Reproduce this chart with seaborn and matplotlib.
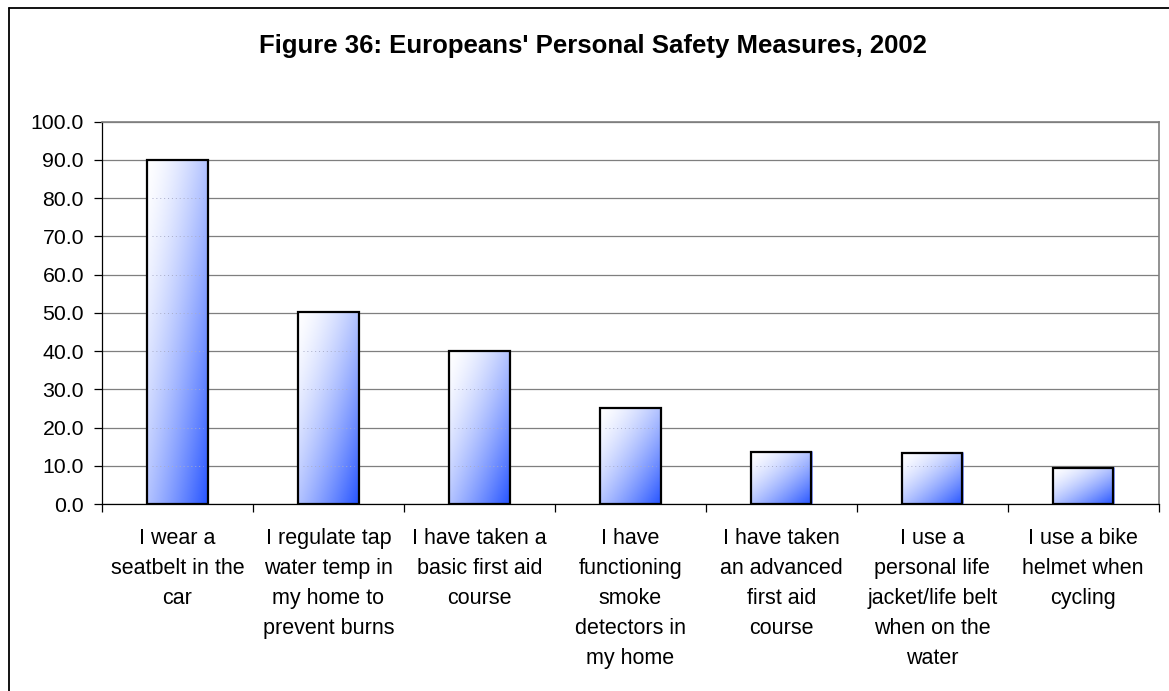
import numpy as np
import pandas as pd
import matplotlib
matplotlib.use("Agg")
import matplotlib.pyplot as plt
from matplotlib.lines import Line2D
from matplotlib.ticker import FixedLocator, FormatStrFormatter
import seaborn as sns

# Share of Europeans reporting each safety measure (%)
categories = [
    "I wear a\nseatbelt in the\ncar",
    "I regulate tap\nwater temp in\nmy home to\nprevent burns",
    "I have taken a\nbasic first aid\ncourse",
    "I have\nfunctioning\nsmoke\ndetectors in\nmy home",
    "I have taken\nan advanced\nfirst aid\ncourse",
    "I use a\npersonal life\njacket/life belt\nwhen on the\nwater",
    "I use a bike\nhelmet when\ncycling",
]
values = [90.0, 50.3, 40.0, 25.2, 13.7, 13.3, 9.5]
y_ticks = [0, 10, 20, 30, 40, 50, 60, 70, 80, 90, 100]
title = "Figure 36: Europeans' Personal Safety Measures, 2002"

sns.set_theme(style="white")
plt.rcParams["font.family"] = ["Liberation Sans", "DejaVu Sans"]

W, H = 1169, 691
fig = plt.figure(figsize=(W / 100, H / 100), dpi=100)
fig.patch.set_facecolor("white")
ax = fig.add_axes([102 / W, 1 - 504 / H, (1158.7 - 102) / W, (504 - 121.7) / H])

df = pd.DataFrame({"measure": categories, "share": values})
sns.barplot(data=df, x="measure", y="share", width=0.4, ax=ax,
            color="white", edgecolor="black", linewidth=1.6, zorder=3)

ax.set_ylim(0, 100)
ax.set_xlim(-0.5, len(categories) - 0.5)
ax.set_xlabel("")
ax.set_ylabel("")

# horizontal gridlines
ax.yaxis.set_major_locator(FixedLocator(y_ticks))
ax.yaxis.set_major_formatter(FormatStrFormatter("%.1f"))
ax.grid(axis="y", color="#7f7f7f", linewidth=0.9, zorder=0)
ax.set_axisbelow(True)

# diagonal white-to-blue gradient inside each bar
ny, nx = 200, 100
u = np.linspace(0, 1, nx)[None, :]
v = np.linspace(1, 0, ny)[:, None]   # 1 at top row, 0 at bottom row
t = np.clip(0.5 * u + 0.5 * (1 - v), 0, 1) ** 1.5
white = np.array([1.0, 1.0, 1.0])
blue = np.array([0.15, 0.33, 1.0])
grad = white[None, None, :] * (1 - t[..., None]) + blue[None, None, :] * t[..., None]

for patch in ax.patches:
    x0, y0 = patch.get_x(), patch.get_y()
    w, h = patch.get_width(), patch.get_height()
    patch.set_facecolor("none")
    im = ax.imshow(grad, extent=[x0, x0 + w, y0, y0 + h], aspect="auto",
                   origin="upper", zorder=2, interpolation="bilinear")
    im.set_clip_path(patch)
    # faint gridlines showing through the bar
    for gy in y_ticks[1:]:
        if gy < y0 + h - 1:
            ax.plot([x0 + w * 0.08, x0 + w * 0.92], [gy, gy], color="#a8acc8",
                    linewidth=0.7, linestyle=(0, (1, 3)), zorder=2.5)
    # thin blue shade along the right edge
    ax.plot([x0 + w * 1.012, x0 + w * 1.012], [y0, y0 + h * 0.995],
            color="#3a5cff", linewidth=1.2, alpha=0.7, zorder=2.8)

ax.set_xlim(-0.5, len(categories) - 0.5)
ax.set_ylim(0, 100)

# spines
for side in ["left", "bottom"]:
    ax.spines[side].set_color("black")
    ax.spines[side].set_linewidth(0.9)
for side in ["top", "right"]:
    ax.spines[side].set_color("#7f7f7f")
    ax.spines[side].set_linewidth(1.2)

# ticks
ax.tick_params(axis="y", which="major", direction="out", length=6, width=0.9,
               color="black", labelsize=15.3, labelcolor="black", pad=7, left=True)
ax.xaxis.set_minor_locator(FixedLocator(np.arange(-0.5, len(categories), 1.0)))
ax.tick_params(axis="x", which="minor", direction="out", length=6, width=0.9,
               color="black", bottom=True)
ax.tick_params(axis="x", which="major", length=0, labelsize=15.5,
               labelcolor="black", pad=17)
for lab in ax.get_xticklabels():
    lab.set_linespacing(1.57)
    lab.set_verticalalignment("top")

fig.text(0.507, 1 - 46 / H, title, ha="center", va="center",
         fontsize=18.5, fontweight="bold", color="black")

# chart frame
fig.add_artist(Line2D([8.5 / W, 8.5 / W], [1 - 8 / H, 0], transform=fig.transFigure,
                      color="black", linewidth=1.3))
fig.add_artist(Line2D([8.5 / W, 1], [1 - 8 / H, 1 - 8 / H], transform=fig.transFigure,
                      color="black", linewidth=1.3))

fig.savefig("out.png", dpi=100, facecolor="white")
